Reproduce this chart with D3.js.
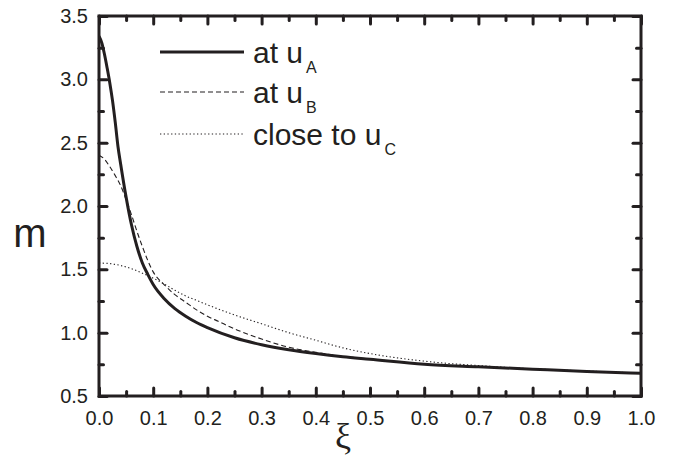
<!DOCTYPE html>
<html lang="en">
  <head>
    <script src="https://d3js.org/d3.v7.min.js"></script>
    <style>
      body {
        margin: 0;
        background: #fff;
      }
      text {
        font-family: "Liberation Sans", Arial, Helvetica, sans-serif;
        fill: #231f20;
      }
    </style>
  </head>

  <body>
    <svg width="684" height="460"></svg>
    <script>
      // data
      var xiA = [0, 0.005, 0.01, 0.015, 0.02, 0.025, 0.03, 0.035, 0.04, 0.05, 0.06, 0.07, 0.08, 0.09, 0.1, 0.12, 0.14, 0.16, 0.18, 0.2, 0.25, 0.3, 0.35, 0.4, 0.45, 0.5, 0.6, 0.7, 0.8, 0.9, 1.0];
      var mA = [3.34, 3.29, 3.2, 3.09, 2.97, 2.83, 2.66, 2.47, 2.33, 2.07, 1.85, 1.68, 1.55, 1.46, 1.38, 1.27, 1.19, 1.13, 1.08, 1.04, 0.96, 0.905, 0.865, 0.835, 0.81, 0.79, 0.75, 0.73, 0.712, 0.694, 0.679];

      var xiB = [0, 0.01, 0.02, 0.03, 0.04, 0.05, 0.06, 0.07, 0.08, 0.09, 0.1, 0.12, 0.14, 0.16, 0.18, 0.2, 0.22, 0.25, 0.3, 0.35, 0.4, 0.45, 0.5, 0.6, 0.7, 0.8, 0.9, 1.0];
      var mB = [2.4, 2.37, 2.31, 2.24, 2.16, 2.05, 1.93, 1.8, 1.68, 1.57, 1.48, 1.38, 1.3, 1.24, 1.18, 1.13, 1.09, 1.03, 0.95, 0.885, 0.845, 0.813, 0.792, 0.751, 0.73, 0.712, 0.694, 0.679];

      var xiC = [0, 0.02, 0.04, 0.06, 0.08, 0.1, 0.12, 0.14, 0.16, 0.18, 0.2, 0.25, 0.3, 0.35, 0.4, 0.45, 0.5, 0.6, 0.7, 0.8, 0.9, 1.0];
      var mC = [1.55, 1.545, 1.53, 1.505, 1.47, 1.43, 1.385, 1.335, 1.29, 1.255, 1.22, 1.14, 1.07, 1.0, 0.94, 0.88, 0.835, 0.775, 0.74, 0.715, 0.697, 0.681];

      var seriesNames = ["at u", "at u", "close to u"];
      var seriesSubs = ["A", "B", "C"];

      var xTicks = [0, 0.1, 0.2, 0.3, 0.4, 0.5, 0.6, 0.7, 0.8, 0.9, 1.0];
      var yTicks = [0.5, 1.0, 1.5, 2.0, 2.5, 3.0, 3.5];

      var svg = d3.select("svg");
      // plot box edges (window.top is taken, so prefix them)
      var plotL = 99, plotR = 641, plotT = 16, plotB = 396;
      var ink = "#231f20";

      var x = d3.scaleLinear().domain([0, 1]).range([plotL, plotR]);
      var y = d3.scaleLinear().domain([0.5, 3.5]).range([plotB, plotT]);

      // clip so the curves stay inside the frame
      svg.append("clipPath").attr("id", "plot")
        .append("rect")
        .attr("x", plotL).attr("y", plotT)
        .attr("width", plotR - plotL).attr("height", plotB - plotT);

      var line = d3.line()
        .x(function (d) { return x(d[0]); })
        .y(function (d) { return y(d[1]); })
        .curve(d3.curveMonotoneX);

      var series = [
        { xs: xiA, ys: mA, width: 3, dash: null },
        { xs: xiB, ys: mB, width: 1.1, dash: "5,3" },
        { xs: xiC, ys: mC, width: 1.1, dash: "1.3,2.4" }
      ];

      var curves = svg.append("g").attr("clip-path", "url(#plot)");
      series.forEach(function (s) {
        curves.append("path")
          .datum(s.xs.map(function (v, i) { return [v, s.ys[i]]; }))
          .attr("fill", "none")
          .attr("stroke", ink)
          .attr("stroke-width", s.width)
          .attr("stroke-dasharray", s.dash)
          .attr("d", line);
      });

      // axes: ticks point inwards on all four sides
      var xMinor = d3.range(0.05, 1, 0.1);
      var yMinor = d3.range(0.75, 3.5, 0.5);

      var bottomAx = d3.axisBottom(x).tickValues(xTicks).tickSize(-8).tickPadding(15).tickFormat(d3.format(".1f"));
      var topAx = d3.axisTop(x).tickValues(xTicks).tickSize(-8).tickFormat("");
      var leftAx = d3.axisLeft(y).tickValues(yTicks).tickSize(-8).tickPadding(11).tickFormat(d3.format(".1f"));
      var rightAx = d3.axisRight(y).tickValues(yTicks).tickSize(-8).tickFormat("");

      function minor(axisFn, scale, vals) {
        return axisFn(scale).tickValues(vals).tickSize(-4.5).tickFormat("");
      }

      var axes = [
        [bottomAx, "translate(0," + plotB + ")"],
        [topAx, "translate(0," + plotT + ")"],
        [leftAx, "translate(" + plotL + ",0)"],
        [rightAx, "translate(" + plotR + ",0)"],
        [minor(d3.axisBottom, x, xMinor), "translate(0," + plotB + ")"],
        [minor(d3.axisTop, x, xMinor), "translate(0," + plotT + ")"],
        [minor(d3.axisLeft, y, yMinor), "translate(" + plotL + ",0)"],
        [minor(d3.axisRight, y, yMinor), "translate(" + plotR + ",0)"]
      ];
      axes.forEach(function (a) {
        var g = svg.append("g").attr("transform", a[1]).call(a[0]);
        g.select(".domain").remove();
        g.selectAll(".tick line")
          .attr("stroke", ink)
          .attr("stroke-width", 3)
          .attr("stroke-linecap", "round");
        g.selectAll(".tick text")
          .style("font-size", "20px")
          .style("font-family", "Liberation Sans, Arial, sans-serif")
          .attr("fill", ink);
      });

      //frame
      svg.append("rect")
        .attr("x", plotL).attr("y", plotT)
        .attr("width", plotR - plotL).attr("height", plotB - plotT)
        .attr("fill", "none")
        .attr("stroke", ink)
        .attr("stroke-width", 3);

      //axis titles
      svg.append("text")
        .attr("x", 30).attr("y", 247)
        .attr("text-anchor", "middle")
        .style("font-size", "40px")
        .text("m");

      svg.append("text")
        .attr("x", 343).attr("y", 448)
        .attr("text-anchor", "middle")
        .style("font-size", "36px")
        .style("font-family", "Liberation Serif, Times New Roman, serif")
        .text("ξ");

      //legend
      var legendY = [52, 92, 134];
      var legend = svg.append("g");
      series.forEach(function (s, i) {
        legend.append("line")
          .attr("x1", 160).attr("x2", 244)
          .attr("y1", legendY[i]).attr("y2", legendY[i])
          .attr("stroke", ink)
          .attr("stroke-width", s.width)
          .attr("stroke-dasharray", s.dash);
        var t = legend.append("text")
          .attr("x", 253)
          .attr("y", legendY[i] + 11)
          .style("font-size", "30px")
          .text(seriesNames[i]);
        t.append("tspan")
          .attr("dx", 3)
          .attr("dy", 10)
          .style("font-size", "16px")
          .text(seriesSubs[i]);
      });
    </script>
  </body>
</html>
